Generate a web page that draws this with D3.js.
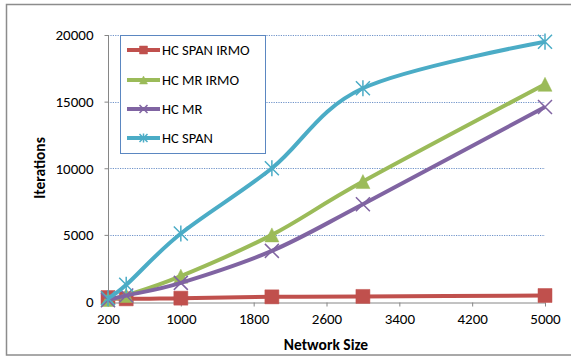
<!DOCTYPE html>
<html>
<head>
<meta charset="utf-8">
<script src="https://cdn.jsdelivr.net/npm/d3@7"></script>
<style>
  body { margin: 0; background: #fff; }
  text { font-family: Carlito, Lato, "Liberation Sans", sans-serif; fill: #000; }
</style>
</head>
<body>
<div id="chart"></div>
<script>
// data
let network_size = [200, 400, 1000, 2000, 3000, 5000];
let hc_span_irmo = [300, 200, 250, 350, 380, 450];
let hc_mr_irmo = [150, 450, 1900, 5000, 9000, 16300];
let hc_mr = [100, 450, 1400, 3800, 7300, 14600];
let hc_span = [250, 1250, 5100, 10000, 16000, 19500];

let series_names = ["HC SPAN IRMO", "HC MR IRMO", "HC MR", "HC SPAN"];
let series_values = [hc_span_irmo, hc_mr_irmo, hc_mr, hc_span];
let series_colors = ["#C0504D", "#9BBB59", "#8064A2", "#4BACC6"];
let series_markers = ["square", "triangle", "cross", "star"];

let x_ticks = [200, 1000, 1800, 2600, 3400, 4200, 5000];
let y_ticks = [0, 5000, 10000, 15000, 20000];

let width_chart = 571, height_chart = 358;
let plot = {left: 108, right: 545, top: 35, bottom: 301.5};

let svg_chart = d3.select("#chart").append("svg")
    .attr("width", width_chart)
    .attr("height", height_chart);

// outer frame
svg_chart.append("rect")
    .attr("x", 6.5).attr("y", 4.5)
    .attr("width", 620).attr("height", 350.5)
    .attr("fill", "none")
    .attr("stroke", "#8c8c8c")
    .attr("stroke-width", 1.5);

let xScale = d3.scaleLinear().domain([200, 5000]).range([plot.left, plot.right]);
let yScale = d3.scaleLinear().domain([0, 20000]).range([plot.bottom, plot.top]);

// gridlines
svg_chart.append("g").selectAll("line")
    .data(y_ticks.filter(d => d > 0))
    .join("line")
    .attr("x1", plot.left).attr("x2", plot.right)
    .attr("y1", d => Math.round(yScale(d)) + 0.5)
    .attr("y2", d => Math.round(yScale(d)) + 0.5)
    .attr("stroke", "#6f93c9")
    .attr("stroke-width", 1)
    .attr("stroke-dasharray", "1.2,1.2");

// axes
let xAxis = d3.axisBottom(xScale).tickValues(x_ticks).tickFormat(d3.format("d"))
    .tickSize(4).tickPadding(7).tickSizeOuter(0);
let yAxis = d3.axisLeft(yScale).tickValues(y_ticks).tickFormat(d3.format("d"))
    .tickSize(4).tickPadding(11).tickSizeOuter(0);

let gx = svg_chart.append("g")
    .attr("transform", "translate(0," + (Math.round(plot.bottom) + 0.5) + ")")
    .call(xAxis);
let gy = svg_chart.append("g")
    .attr("transform", "translate(" + (plot.left + 0.5) + ",0)")
    .call(yAxis);

[gx, gy].forEach(g => {
    g.select(".domain").attr("stroke", "#868686");
    g.selectAll(".tick line").attr("stroke", "#868686");
    g.selectAll(".tick text").attr("font-size", 15).attr("font-family", "Carlito, Lato, sans-serif").attr("fill", "#000");
});
gy.select(".domain").attr("d", "M0," + (plot.bottom + 4) + "V" + plot.top);

// axis titles
svg_chart.append("text")
    .attr("x", 326).attr("y", 350)
    .attr("text-anchor", "middle")
    .attr("font-size", 15.5).attr("font-weight", "bold")
    .text("Network Size");
svg_chart.append("text")
    .attr("transform", "translate(45,168) rotate(-90)")
    .attr("text-anchor", "middle")
    .attr("font-size", 15.5).attr("font-weight", "bold")
    .text("Iterations");

function marker_path(type, s) {
    let h = s / 2;
    if (type === "square") return "M" + (-h) + "," + (-h) + "h" + s + "v" + s + "h" + (-s) + "Z";
    if (type === "triangle") return "M0," + (-h) + "L" + h + "," + h + "L" + (-h) + "," + h + "Z";
    if (type === "cross") return "M" + (-h) + "," + (-h) + "L" + h + "," + h + "M" + h + "," + (-h) + "L" + (-h) + "," + h;
    return "M" + (-h) + "," + (-h) + "L" + h + "," + h + "M" + h + "," + (-h) + "L" + (-h) + "," + h + "M0," + (-h * 1.15) + "V" + (h * 1.15);
}

function draw_marker(g, type, color, s) {
    let filled = type === "square" || type === "triangle";
    g.append("path")
        .attr("d", marker_path(type, s))
        .attr("fill", filled ? color : "none")
        .attr("stroke", color)
        .attr("stroke-width", filled ? 0.5 : 1.5);
}

let line_gen = d3.line()
    .x((d, i) => xScale(network_size[i]))
    .y(d => yScale(d))
    .curve(d3.curveCatmullRom.alpha(0));

let svg_series = svg_chart.append("g");
series_values.forEach((vals, si) => {
    let g = svg_series.append("g");
    g.append("path")
        .attr("d", line_gen(vals))
        .attr("fill", "none")
        .attr("stroke", series_colors[si])
        .attr("stroke-width", 4)
        .attr("stroke-linejoin", "round");
    vals.forEach((v, i) => {
        let mg = g.append("g").attr("transform", "translate(" + xScale(network_size[i]) + "," + yScale(v) + ")");
        draw_marker(mg, series_markers[si], series_colors[si], 14);
    });
});

// legend
let legend = svg_chart.append("g");
legend.append("rect")
    .attr("x", 120.5).attr("y", 35.5)
    .attr("width", 145).attr("height", 118)
    .attr("fill", "#fff")
    .attr("stroke", "#5b87c1")
    .attr("stroke-width", 1);
let legend_y = [50, 80, 109, 138];
series_names.forEach((name, si) => {
    let row = legend.append("g").attr("transform", "translate(0," + legend_y[si] + ")");
    row.append("line")
        .attr("x1", 127).attr("x2", 160)
        .attr("stroke", series_colors[si])
        .attr("stroke-width", 4);
    let mg = row.append("g").attr("transform", "translate(143.5,0)");
    draw_marker(mg, series_markers[si], series_colors[si], 8);
    row.append("text")
        .attr("x", 162).attr("y", 0)
        .attr("dy", "0.35em")
        .attr("font-size", 14.5)
        .text(name);
});
</script>
</body>
</html>
